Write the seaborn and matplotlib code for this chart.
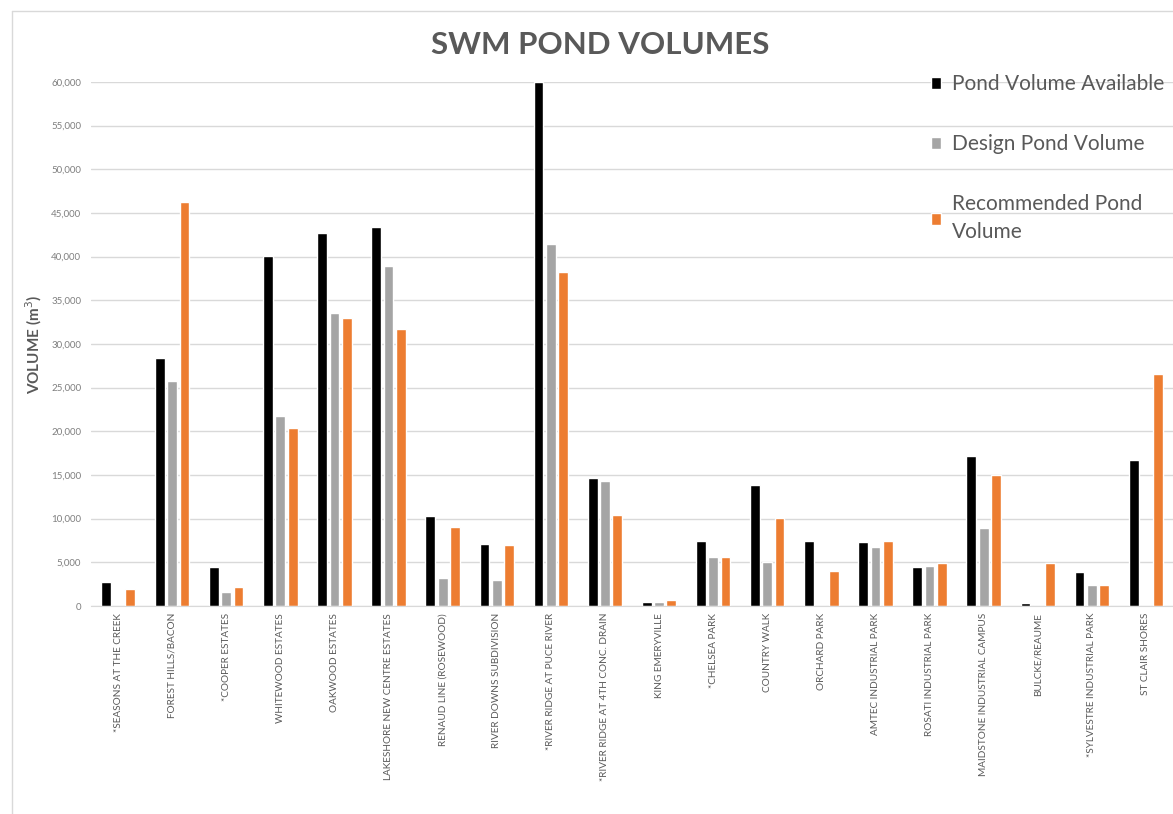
import pandas as pd
import seaborn as sns
import matplotlib.pyplot as plt
from matplotlib.lines import Line2D

# pond names along the x axis
ponds = ['*SEASONS AT THE CREEK', 'FOREST HILLS/BACON', '*COOPER ESTATES',
         'WHITEWOOD ESTATES', 'OAKWOOD ESTATES', 'LAKESHORE NEW CENTRE ESTATES',
         'RENAUD LINE (ROSEWOOD)', 'RIVER DOWNS SUBDIVISION',
         '*RIVER RIDGE AT PUCE RIVER', '*RIVER RIDGE AT 4TH CONC. DRAIN',
         'KING EMERYVILLE', '*CHELSEA PARK', 'COUNTRY WALK', 'ORCHARD PARK',
         'AMTEC INDUSTRIAL PARK', 'ROSATI INDUSTRIAL PARK',
         'MAIDSTONE INDUSTRIAL CAMPUS', 'BULCKE/REAUME',
         '*SYLVESTRE INDUSTRIAL PARK', 'ST CLAIR SHORES']

# volumes in m3 (0 = no bar)
available = [2750, 28400, 4450, 40100, 42700, 43400, 10250, 7100, 60000, 14650,
             500, 7450, 13800, 7500, 7300, 4500, 17200, 300, 3950, 16700]
design = [0, 25750, 1650, 21750, 33500, 38900, 3200, 2950, 41500, 14350,
          500, 5600, 5000, 0, 6800, 4550, 8950, 0, 2350, 0]
recommended = [1950, 46300, 2200, 20400, 33000, 31700, 9050, 6950, 38300, 10450,
               650, 5600, 10050, 4000, 7450, 4950, 14950, 4950, 2450, 26600]

series = ['Pond Volume Available', 'Design Pond Volume', 'Recommended Pond Volume']
colors = ['#000000', '#A5A5A5', '#ED7D31']

df = pd.DataFrame({'pond': ponds, series[0]: available,
                   series[1]: design, series[2]: recommended})
long = df.melt(id_vars='pond', var_name='series', value_name='volume')

sns.set_style('white')
plt.rcParams['font.family'] = ['Lato', 'DejaVu Sans']

fig = plt.figure(figsize=(11.73, 8.14), dpi=100)
ax = fig.add_axes([91 / 1173, 208 / 814, 1 - 91 / 1173, 524 / 814])

sns.barplot(data=long, x='pond', y='volume', hue='series', hue_order=series,
            palette=colors, width=0.68, gap=0.2, saturation=1, ax=ax)

ax.set_ylim(0, 60000)
ax.set_yticks(range(0, 60001, 5000))
ax.set_yticklabels([f'{v:,}' for v in range(0, 60001, 5000)],
                   color='#7F7F7F', fontsize=7)
ax.tick_params(axis='y', length=0, pad=7)
ax.tick_params(axis='x', length=0, pad=5)
ax.set_xticks(range(len(ponds)))
ax.set_xticklabels(ponds, rotation=90, fontsize=7.2, color='#595959', va='top')
ax.grid(axis='y', color='#D9D9D9', linewidth=1)
ax.set_axisbelow(True)
for s in ['left', 'right', 'top']:
    ax.spines[s].set_visible(False)
ax.spines['bottom'].set_color('#D9D9D9')
ax.set_xlabel('')
ax.set_ylabel('VOLUME (m$^3$)', fontsize=11, fontweight='bold', color='#595959',
              labelpad=5)

fig.text(600 / 1173, 1 - 45 / 814, 'SWM POND VOLUMES', ha='center', va='center',
         fontsize=22.5, fontweight='bold', color='#595959')

handles, labels = ax.get_legend_handles_labels()
labels = [l.replace('Recommended Pond ', 'Recommended Pond\n') for l in labels]
leg = ax.legend(handles, labels, loc='upper left',
                bbox_to_anchor=(931 / 1173, 1 - 74 / 814), bbox_transform=fig.transFigure,
                frameon=False, fontsize=15, labelcolor='#595959', handlelength=0.5,
                handleheight=0.5, handletextpad=0.5, labelspacing=1.93,
                borderpad=0, borderaxespad=0)
for t in leg.get_texts():
    t.set_linespacing(1.5)

# faint chart frame
fig.add_artist(Line2D([12 / 1173, 12 / 1173], [0, 1 - 11 / 814],
                      transform=fig.transFigure, color='#D9D9D9', linewidth=1))
fig.add_artist(Line2D([12 / 1173, 1], [1 - 11 / 814, 1 - 11 / 814],
                      transform=fig.transFigure, color='#D9D9D9', linewidth=1))

fig.savefig('out.png', dpi=100)
